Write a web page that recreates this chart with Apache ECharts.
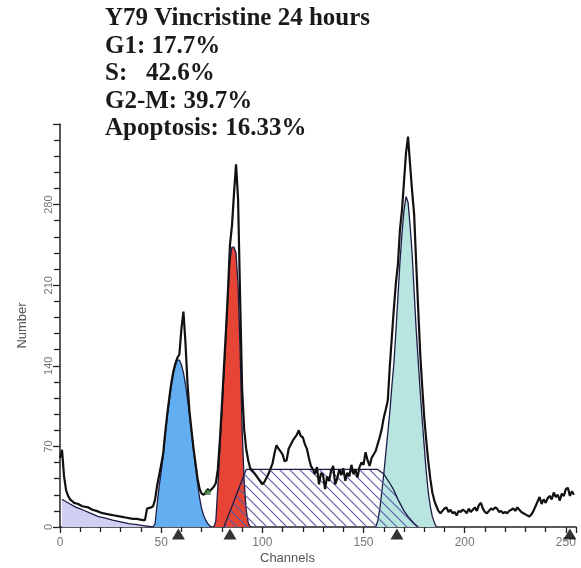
<!DOCTYPE html>
<html>
<head>
<meta charset="utf-8">
<script src="https://cdn.jsdelivr.net/npm/echarts@6/dist/echarts.min.js"></script>
<style>
  html, body { margin: 0; padding: 0; background: #fff; }
  #chart { width: 581px; height: 568px; }
</style>
</head>
<body>
<div id="chart"></div>
<script>
// header lines
const titleLines = [
  'Y79 Vincristine 24 hours',
  'G1: 17.7%',
  'S:   42.6%',
  'G2-M: 39.7%',
  'Apoptosis: 16.33%'
];

// raw histogram, [channel, count]
const histogram = [
  [0, 60], [1, 67], [2, 44], [3, 32], [4, 27], [5, 24], [7, 21], [9, 20], [11, 18], [14, 17],
  [16, 15], [18, 14], [21, 12], [24, 11], [27, 10], [30, 9], [33, 8], [36, 7], [38, 7], [41, 6],
  [42, 6], [43, 16], [45, 17], [46, 18], [47, 24], [48, 36], [49, 45], [50, 54], [51, 64], [52, 82],
  [53, 98], [54, 112], [55, 125], [56, 135], [57, 142], [58, 147], [59, 150], [60, 172], [61, 187], [62, 160],
  [63, 125], [64, 100], [65, 84], [66, 68], [67, 55], [68, 42], [69, 33], [70, 29], [71, 28], [72, 30],
  [73, 33], [74, 31], [75, 33], [76, 35], [77, 38], [78, 50], [79, 75], [80, 105], [81, 138], [82, 170],
  [83, 205], [84, 245], [85, 262], [86, 290], [87, 315], [88, 285], [89, 200], [90, 120], [91, 85], [92, 68],
  [93, 58], [94, 51], [96, 47], [98, 42], [100, 37], [101, 39], [103, 46], [105, 55], [106, 64], [107, 71],
  [108, 68], [110, 63], [111, 57], [112, 58], [113, 68], [115, 75], [117, 80], [118, 84], [119, 79], [120, 78],
  [121, 72], [122, 68], [123, 60], [124, 53], [125, 50], [126, 46], [127, 52], [128, 37], [129, 47], [130, 45],
  [131, 33], [132, 44], [133, 40], [134, 49], [135, 53], [136, 37], [137, 42], [138, 50], [139, 45], [140, 51],
  [141, 40], [142, 47], [143, 44], [144, 54], [145, 46], [146, 50], [147, 43], [148, 52], [149, 56], [150, 54],
  [151, 65], [152, 58], [153, 53], [154, 60], [155, 63], [156, 66], [157, 72], [158, 78], [159, 85], [160, 95],
  [161, 102], [162, 110], [163, 140], [164, 165], [165, 190], [166, 212], [167, 228], [168, 258], [169, 275], [170, 300],
  [171, 325], [172, 339], [173, 315], [174, 292], [175, 272], [176, 230], [177, 190], [178, 151], [179, 122], [180, 95],
  [181, 75], [182, 57], [183, 42], [184, 30], [185, 23], [186, 18], [187, 14], [188, 12], [189, 14], [190, 16],
  [191, 17], [192, 13], [193, 15], [194, 12], [195, 13], [196, 10], [197, 14], [198, 13], [199, 15], [200, 14],
  [201, 12], [202, 16], [203, 13], [204, 15], [205, 17], [206, 14], [207, 19], [208, 21], [209, 16], [210, 13],
  [211, 12], [212, 14], [213, 16], [214, 15], [215, 17], [216, 16], [217, 13], [218, 14], [219, 12], [220, 13],
  [221, 12], [222, 14], [223, 15], [224, 16], [225, 14], [226, 17], [227, 15], [228, 13], [229, 12], [230, 11],
  [231, 10], [232, 9], [233, 11], [234, 14], [235, 18], [236, 22], [237, 26], [238, 20], [239, 24], [240, 21],
  [241, 25], [242, 27], [243, 24], [244, 30], [245, 26], [246, 28], [247, 23], [248, 29], [249, 27], [250, 33],
  [251, 34], [252, 27], [253, 31], [254, 28]
];

// fitted components
const debris = [
  [1, 24], [2, 23], [5, 20], [8, 17], [11, 15], [15, 12], [19, 9], [22, 8], [26, 6], [30, 4.5],
  [34, 3], [38, 2], [42, 1], [46, 0]
];
const apoptoticPeak = [
  [46, 0], [47, 3], [48, 20], [49, 35], [50, 48], [51, 62], [52, 80], [53, 96], [54, 110], [55, 123],
  [56, 133], [57, 140], [58, 145], [59, 145], [60, 141], [61, 134], [62, 124], [63, 111], [64, 98], [65, 82],
  [66, 66], [67, 52], [68, 38], [69, 25], [70, 16], [71, 10], [72, 6], [73, 3], [74, 1], [75, 0]
];
const g1Peak = [
  [76, 0], [77, 5], [78, 35], [79, 67], [80, 100], [81, 132], [82, 165], [83, 200], [84, 232], [85, 243],
  [86, 243], [87, 238], [88, 210], [89, 154], [90, 85], [91, 40], [92, 15], [93, 4], [94, 0]
];
const sPhase = [
  [81, 0], [92, 50], [157, 50], [160, 46], [163, 38], [165, 32], [167, 24], [170, 14], [172, 9], [175, 3],
  [177, 0]
];
const g2Peak = [
  [156, 0], [157, 5], [158, 15], [159, 30], [160, 46], [161, 64], [162, 82], [163, 100], [164, 122], [165, 142],
  [166, 170], [167, 200], [168, 230], [169, 255], [170, 275], [171, 287], [172, 282], [173, 262], [174, 238], [175, 205],
  [176, 172], [177, 145], [178, 118], [179, 93], [180, 70], [181, 48], [182, 30], [183, 18], [184, 9], [185, 4],
  [186, 0]
];

// peak markers under the axis and the small gate mark
const peakMarkers = [[58.5, 0], [84, 0], [166.5, 0], [252, 0]];
const gateMarks = [[73, 30]];

const yTicks = [0, 70, 140, 210, 280];

const hatch = document.createElement('canvas');
hatch.width = 10;
hatch.height = 10;
const hc = hatch.getContext('2d');
hc.strokeStyle = '#5a5aa6';
hc.lineWidth = 1.1;
hc.beginPath();
hc.moveTo(0, 0); hc.lineTo(10, 10);
hc.moveTo(-3, 7); hc.lineTo(3, 13);
hc.moveTo(7, -3); hc.lineTo(13, 3);
hc.stroke();

const outline = '#1c1c46';

function fitSeries(name, data, fill, z) {
  return {
    name: name,
    type: 'line',
    data: data,
    showSymbol: false,
    silent: true,
    z: z,
    lineStyle: { color: outline, width: 1.3 },
    areaStyle: { color: fill, opacity: 1 }
  };
}

const chart = echarts.init(document.getElementById('chart'));
chart.setOption({
  animation: false,
  title: {
    text: titleLines.join('\n'),
    left: 100,
    top: 0,
    textStyle: {
      fontFamily: 'Liberation Serif',
      fontWeight: 'bold',
      fontSize: 25,
      lineHeight: 27.5,
      color: '#1a1a1a'
    }
  },
  grid: { left: 60, right: 5, top: 124, bottom: 41 },
  xAxis: {
    type: 'value',
    min: 0,
    max: 255,
    interval: 50,
    splitLine: { show: false },
    axisLine: { onZero: false, lineStyle: { color: '#222', width: 1.5 } },
    axisTick: { length: 6, lineStyle: { color: '#222', width: 1.3 } },
    minorTick: { show: true, splitNumber: 5, length: 5, lineStyle: { color: '#222', width: 1.3 } },
    axisLabel: {
      showMaxLabel: false,
      margin: 10,
      color: '#777',
      fontFamily: 'Liberation Sans',
      fontSize: 12
    }
  },
  yAxis: {
    type: 'value',
    min: 0,
    max: 350,
    interval: 70,
    name: 'Number',
    nameLocation: 'middle',
    nameGap: 31,
    nameTextStyle: { color: '#555', fontFamily: 'Liberation Sans', fontSize: 13 },
    splitLine: { show: false },
    axisLine: { show: true, lineStyle: { color: '#222', width: 1.5 } },
    axisTick: { show: true, length: 7, lineStyle: { color: '#222', width: 1.3 } },
    minorTick: { show: true, splitNumber: 5, length: 6, lineStyle: { color: '#222', width: 1.3 } },
    axisLabel: {
      rotate: 90,
      margin: 6,
      color: '#777',
      fontFamily: 'Liberation Sans',
      fontSize: 11,
      formatter: v => (yTicks.indexOf(v) >= 0 ? String(v) : '')
    }
  },
  graphic: [{
    type: 'text',
    left: 260,
    top: 552,
    style: { text: 'Channels', fill: '#555', font: '13px "Liberation Sans"' }
  }],
  series: [
    fitSeries('Debris', debris, '#d0d0f4', 2),
    fitSeries('Apoptotic', apoptoticPeak, '#62aef0', 3),
    fitSeries('G1', g1Peak, '#e64535', 3),
    fitSeries('G2-M', g2Peak, '#b8e5df', 3),
    {
      name: 'S',
      type: 'line',
      data: sPhase,
      showSymbol: false,
      silent: true,
      z: 4,
      lineStyle: { color: outline, width: 1.3 },
      areaStyle: { color: { image: hatch, repeat: 'repeat' }, opacity: 1 }
    },
    {
      name: 'Histogram',
      type: 'line',
      data: histogram,
      showSymbol: false,
      silent: true,
      z: 6,
      lineStyle: { color: '#111', width: 2.2 }
    },
    {
      name: 'Gate',
      type: 'scatter',
      data: gateMarks,
      symbol: 'rect',
      symbolSize: [6, 5],
      z: 7,
      itemStyle: { color: '#3c7a40' }
    },
    {
      name: 'Peaks',
      type: 'scatter',
      data: peakMarkers,
      symbol: 'triangle',
      symbolSize: [13, 11],
      symbolOffset: [0, 7],
      clip: false,
      z: 8,
      itemStyle: { color: '#000' }
    }
  ]
});
</script>
</body>
</html>
